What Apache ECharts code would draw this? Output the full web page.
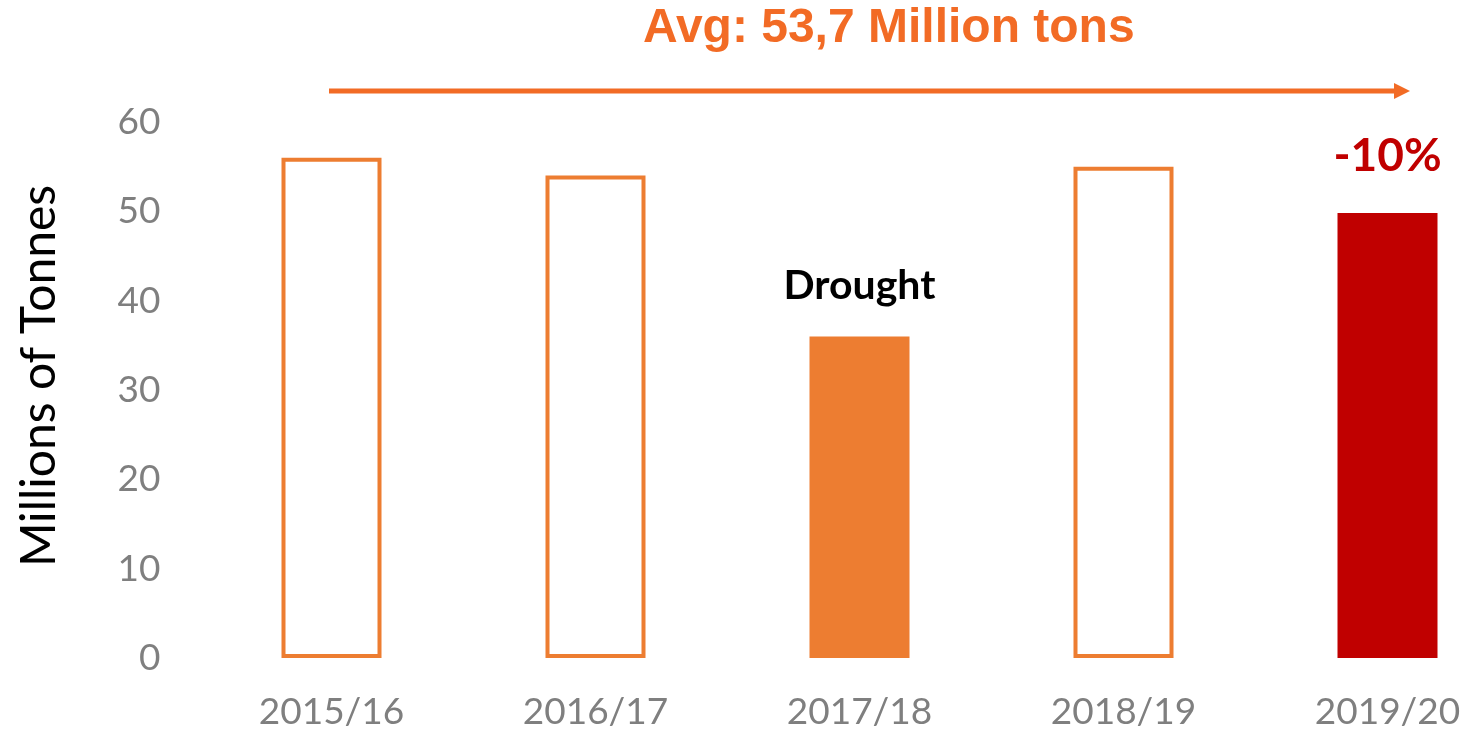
<!DOCTYPE html>
<html>
<head>
<meta charset="utf-8">
<script src="https://cdn.jsdelivr.net/npm/echarts@6/dist/echarts.min.js"></script>
<style>
  html, body { margin: 0; padding: 0; background: #fff; }
  #chart { width: 1466px; height: 734px; }
</style>
</head>
<body>
<div id="chart"></div>
<script>
// 数据
const seasons = ['2015/16', '2016/17', '2017/18', '2018/19', '2019/20']
const production = [56, 54, 36, 55, 49.8]
const barLabels = ['', '', 'Drought', '', '-10%']
const yTicks = [0, 10, 20, 30, 40, 50, 60]
const avgText = 'Avg: 53,7 Million tons'

const orange = '#ED7D31'
const red = '#C00000'
const arrowColor = '#F26B25'

// 每根柱子的样式：空心、实心橙、实心红
const styles = [
  { color: '#fff', borderColor: orange, borderWidth: 4 },
  { color: '#fff', borderColor: orange, borderWidth: 4 },
  { color: orange },
  { color: '#fff', borderColor: orange, borderWidth: 4 },
  { color: red }
]
const labelColors = ['#000', '#000', '#000', '#000', red]
const labelSizes = [41, 41, 41, 41, 46]
const labelGaps = [30, 30, 30, 30, 34]

const chart = echarts.init(document.getElementById('chart'))
chart.setOption({
  animation: false,
  title: {
    text: avgText,
    left: 638,
    top: 0,
    textStyle: {
      color: arrowColor,
      fontFamily: 'Liberation Sans',
      fontWeight: 'bold',
      fontSize: 48
    }
  },
  // 类目中心直接落在网格两端
  grid: { left: 331.5, right: 78.5, top: 122, bottom: 76 },
  xAxis: {
    type: 'category',
    data: seasons,
    boundaryGap: false,
    axisLine: { show: false },
    axisTick: { show: false },
    axisLabel: {
      color: '#7F7F7F',
      fontFamily: 'Lato',
      fontSize: 37,
      margin: 36
    }
  },
  yAxis: {
    type: 'value',
    min: yTicks[0],
    max: yTicks[yTicks.length - 1],
    interval: 10,
    name: 'Millions of Tonnes',
    nameLocation: 'middle',
    nameGap: 268,
    nameTextStyle: {
      color: '#000',
      fontFamily: 'Lato',
      fontSize: 48,
      padding: [0, 0, 0, 28]
    },
    splitLine: { show: false },
    axisLine: { show: false },
    axisTick: { show: false },
    axisLabel: {
      color: '#7F7F7F',
      fontFamily: 'Lato',
      fontSize: 37,
      margin: 171
    }
  },
  series: [
    {
      type: 'bar',
      barWidth: 100,
      data: production.map((v, i) => ({
        value: v,
        itemStyle: styles[i],
        label: {
          show: barLabels[i] !== '',
          position: 'top',
          distance: labelGaps[i],
          formatter: barLabels[i],
          color: labelColors[i],
          fontSize: labelSizes[i],
          fontWeight: 'bold',
          fontFamily: 'Lato'
        }
      }))
    }
  ],
  // 平均值箭头
  graphic: [
    {
      type: 'line',
      shape: { x1: 329, y1: 91, x2: 1396, y2: 91 },
      style: { stroke: arrowColor, lineWidth: 5 }
    },
    {
      type: 'polygon',
      shape: { points: [[1394, 83], [1410, 91], [1394, 99]] },
      style: { fill: arrowColor }
    }
  ]
})
</script>
</body>
</html>
